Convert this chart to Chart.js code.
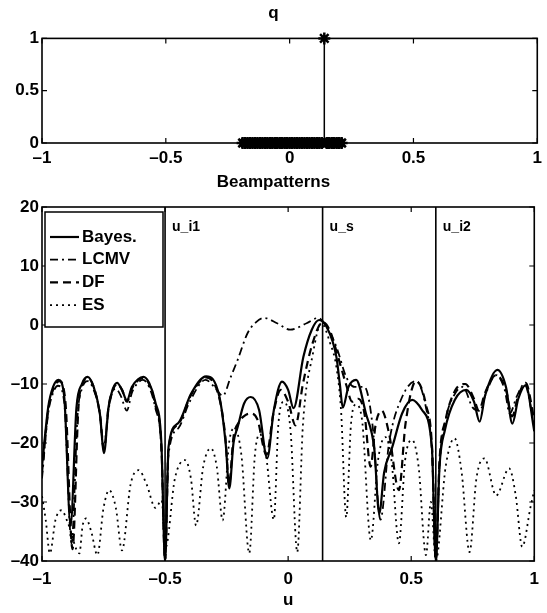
<!DOCTYPE html>
<html>
<head>
<meta charset="utf-8">
<title>q and Beampatterns</title>
<script src="https://cdn.jsdelivr.net/npm/chart.js@4.4.1/dist/chart.umd.min.js"></script>
<style>
  html, body { margin: 0; padding: 0; background: #fff; }
  #wrap { position: relative; width: 547px; height: 613px; }
  .panel { position: absolute; left: 0; width: 547px; }
  #q-panel { top: 0; height: 175px; }
  #beam-panel { top: 160px; height: 453px; }
</style>
</head>
<body>
<div id="wrap">
  <div class="panel" id="q-panel"><canvas id="q-chart"></canvas></div>
  <div class="panel" id="beam-panel"><canvas id="beam-chart"></canvas></div>
</div>
<script>
(function () {
    'use strict';

    /* ── q (stem plot) ── */
    var qU   = [-0.19, -0.18, -0.17, -0.16, -0.15, -0.14, -0.13, -0.12, -0.11, -0.1, -0.09, -0.08, -0.07, -0.06, -0.05, -0.04, -0.03, -0.02, -0.01, 0,
                0.01, 0.02, 0.03, 0.04, 0.05, 0.06, 0.07, 0.08, 0.09, 0.1, 0.11, 0.12, 0.13, 0.14, 0.15, 0.16, 0.17, 0.18, 0.19, 0.2, 0.21];
    var qVal = [0, 0, 0, 0, 0, 0, 0, 0, 0, 0, 0, 0, 0, 0, 0, 0, 0, 0, 0, 0,
                0, 0, 0, 0, 0, 0, 0, 0, 0, 0, 0, 0, 0, 1, 0, 0, 0, 0, 0, 0, 0];

    /* ── direction markers ── */
    var markerU    = [-0.5, 0.14, 0.6];
    var markerText = ['u_i1', 'u_s', 'u_i2'];

    /* ── Beampatterns (dB) ── */
    var bayesU  = [-1, -0.975, -0.955, -0.933, -0.91, -0.884, -0.86, -0.838, -0.815, -0.79, -0.765, -0.748, -0.73, -0.712, -0.695, -0.675, -0.655, -0.635, -0.61, -0.588, -0.565, -0.54, -0.515, -0.5, -0.486, -0.446, -0.394, -0.333, -0.279, -0.254, -0.239, -0.222, -0.205, -0.179, -0.152, -0.118, -0.085, -0.058, -0.025, 0, 0.022, 0.062, 0.096, 0.126, 0.156, 0.196, 0.21, 0.222, 0.245, 0.276, 0.316, 0.35, 0.37, 0.39, 0.423, 0.463, 0.504, 0.544, 0.584, 0.6, 0.615, 0.637, 0.677, 0.724, 0.755, 0.778, 0.8, 0.85, 0.885, 0.911, 0.935, 0.965, 1];
    var bayesDb = [-24, -14, -10.5, -9.3, -12, -34, -14, -10, -8.8, -10.5, -15, -21.7, -14, -10.8, -9.8, -11, -12.8, -10.5, -9.2, -8.8, -9.8, -13, -20, -40, -20.7, -16.6, -11.6, -8.7, -12.2, -20, -27.7, -20, -17.3, -13.3, -12.2, -14.4, -22.6, -14.4, -9.6, -11, -14.1, -5.4, -0.8, 0.85, -0.3, -5.4, -10, -14, -10.5, -9.3, -15, -21, -32, -25, -20.7, -15, -12.7, -14.4, -20.7, -40, -24, -17.8, -12.7, -11, -13, -16.4, -12, -7.6, -10.5, -16.7, -12.5, -10.2, -18];

    var lcmvU  = [-1, -0.975, -0.955, -0.935, -0.91, -0.88, -0.855, -0.835, -0.815, -0.79, -0.765, -0.75, -0.73, -0.715, -0.7, -0.68, -0.655, -0.635, -0.61, -0.59, -0.565, -0.54, -0.515, -0.5, -0.486, -0.446, -0.4, -0.335, -0.3, -0.265, -0.235, -0.205, -0.165, -0.13, -0.098, -0.045, 0.008, 0.075, 0.122, 0.156, 0.196, 0.236, 0.27, 0.31, 0.343, 0.375, 0.41, 0.46, 0.52, 0.56, 0.585, 0.6, 0.615, 0.64, 0.68, 0.71, 0.75, 0.78, 0.8, 0.845, 0.88, 0.9, 0.93, 0.96, 1];
    var lcmvDb = [-26, -15, -11.5, -10.3, -13, -37, -15, -10.5, -9.5, -11, -15, -21, -14.5, -11.5, -10.8, -12, -14.5, -11.5, -9.8, -9.3, -10.5, -14, -21, -40, -22, -17.5, -13, -9.3, -10.5, -12, -9, -5.9, -1.4, 0.5, 1.2, 0.3, -0.8, 0.3, 1.2, -0.3, -3.7, -8.8, -10.5, -10.5, -17, -33, -20, -12.5, -9.5, -14, -22, -40, -24, -16, -11.5, -10.5, -14, -14.5, -12, -8.5, -11, -15, -12, -10, -17];

    var dfU  = [-1, -0.975, -0.955, -0.93, -0.905, -0.876, -0.852, -0.835, -0.813, -0.79, -0.765, -0.748, -0.73, -0.712, -0.695, -0.675, -0.655, -0.635, -0.61, -0.588, -0.565, -0.54, -0.515, -0.5, -0.486, -0.446, -0.394, -0.333, -0.279, -0.255, -0.24, -0.222, -0.2, -0.175, -0.15, -0.125, -0.088, -0.06, -0.03, 0, 0.03, 0.06, 0.1, 0.14, 0.17, 0.2, 0.235, 0.26, 0.285, 0.31, 0.335, 0.355, 0.38, 0.41, 0.45, 0.477, 0.52, 0.56, 0.585, 0.6, 0.615, 0.64, 0.68, 0.72, 0.755, 0.775, 0.8, 0.845, 0.885, 0.91, 0.935, 0.965, 1];
    var dfDb = [-25, -14.5, -11, -9.5, -13, -38, -14, -10, -9, -10.5, -15, -21, -14, -11, -10, -11, -13, -10.8, -9.4, -9, -10, -13.5, -20.5, -40, -21, -16.8, -11.8, -8.9, -12.5, -19, -27, -19, -16.5, -15.3, -15, -16, -22, -15, -11, -13, -17, -10, -3, 0.5, -1, -5, -10, -13, -12.5, -15, -24, -17, -14.5, -18.4, -28, -16.7, -9.5, -13.5, -21, -40, -23, -16, -11, -10, -12.5, -14.5, -11.5, -8.5, -11, -15.5, -12, -9.8, -16];

    var esU  = [-1, -0.985, -0.968, -0.945, -0.921, -0.895, -0.848, -0.835, -0.821, -0.8, -0.775, -0.75, -0.727, -0.7, -0.675, -0.64, -0.607, -0.575, -0.539, -0.514, -0.498, -0.46, -0.419, -0.395, -0.374, -0.345, -0.314, -0.29, -0.266, -0.24, -0.219, -0.19, -0.158, -0.135, -0.115, -0.09, -0.058, -0.04, -0.017, 0.01, 0.037, 0.06, 0.1, 0.135, 0.17, 0.196, 0.215, 0.236, 0.255, 0.275, 0.3, 0.336, 0.365, 0.395, 0.42, 0.45, 0.475, 0.504, 0.53, 0.56, 0.58, 0.6, 0.64, 0.676, 0.705, 0.737, 0.765, 0.798, 0.845, 0.898, 0.925, 0.951, 0.985, 1];
    var esDb = [-29, -33, -38.7, -33, -31.4, -33.5, -38.7, -34, -32.8, -35, -39, -31, -28, -31, -38.2, -27, -24.6, -27, -31, -29.7, -37.7, -26, -22.9, -26, -34, -24, -20.9, -24, -33.1, -20, -17.5, -22, -38.7, -22, -18.5, -22, -33, -17, -13, -18, -38.5, -17, -5, 0.3, -3, -7.1, -14.5, -32.6, -17, -13.5, -16, -36.5, -23, -19, -23, -37, -23, -19.5, -24, -39, -30, -40, -24, -19.2, -25, -38.5, -26, -22.6, -28.9, -24.3, -29, -37.6, -30.8, -28];

    /* ── shared styling ── */
    var fontFamily = '"Liberation Sans", Arial, Helvetica, sans-serif';
    var axisFont = { family: fontFamily, size: 17, weight: 'bold' };
    var black = '#000';

    function zip(xs, ys) {
        return xs.map(function (x, i) { return { x: x, y: ys[i] }; });
    }
    function fmtTick(v) {
        return String(v).replace('-', '\u2013');
    }

    /* MATLAB style box with inward tick marks on all four sides */
    var matlabBox = {
        id: 'matlabBox',
        afterDatasetsDraw: function (chart) {
            var ctx = chart.ctx, a = chart.chartArea;
            var sx = chart.scales.x, sy = chart.scales.y, len = 5;
            ctx.save();
            ctx.strokeStyle = black;
            ctx.lineWidth = 1.6;
            ctx.strokeRect(a.left, a.top, a.right - a.left, a.bottom - a.top);
            ctx.lineWidth = 1.2;
            ctx.beginPath();
            sx.ticks.forEach(function (t) {
                var px = sx.getPixelForValue(t.value);
                ctx.moveTo(px, a.bottom); ctx.lineTo(px, a.bottom - len);
                ctx.moveTo(px, a.top); ctx.lineTo(px, a.top + len);
            });
            sy.ticks.forEach(function (t) {
                var py = sy.getPixelForValue(t.value);
                ctx.moveTo(a.left, py); ctx.lineTo(a.left + len, py);
                ctx.moveTo(a.right, py); ctx.lineTo(a.right - len, py);
            });
            ctx.stroke();
            ctx.restore();
        }
    };

    /* text tags next to the vertical direction lines */
    var markerTags = {
        id: 'markerTags',
        afterDatasetsDraw: function (chart) {
            var ctx = chart.ctx, sx = chart.scales.x, sy = chart.scales.y;
            ctx.save();
            ctx.fillStyle = black;
            ctx.font = 'bold 14px ' + fontFamily;
            ctx.textBaseline = 'middle';
            markerU.forEach(function (u, i) {
                ctx.fillText(markerText[i], sx.getPixelForValue(u) + 7, sy.getPixelForValue(16.6));
            });
            ctx.restore();
        }
    };

    /* legend drawn inside the plot, upper left, like MATLAB */
    var insetLegend = {
        id: 'insetLegend',
        afterDraw: function (chart) {
            var ctx = chart.ctx, a = chart.chartArea;
            var items = chart.data.datasets.filter(function (d) { return d.inLegend; });
            var x0 = a.left + 3, y0 = a.top + 5, w = 118, h = 115;
            ctx.save();
            ctx.fillStyle = '#fff';
            ctx.fillRect(x0, y0, w, h);
            ctx.strokeStyle = black;
            ctx.lineWidth = 1.5;
            ctx.strokeRect(x0, y0, w, h);
            ctx.font = 'bold 17px ' + fontFamily;
            ctx.textBaseline = 'middle';
            items.forEach(function (d, i) {
                var y = y0 + 25 + i * 22.7;
                ctx.setLineDash(d.borderDash || []);
                ctx.lineWidth = d.borderWidth;
                ctx.beginPath();
                ctx.moveTo(x0 + 5, y);
                ctx.lineTo(x0 + 34, y);
                ctx.stroke();
                ctx.setLineDash([]);
                ctx.fillStyle = black;
                ctx.fillText(d.label, x0 + 37, y);
            });
            ctx.restore();
        }
    };

    /* ── 1. q — stem plot ── */
    var stemData = [];
    qU.forEach(function (u, i) {
        if (qVal[i] !== 0) {
            stemData.push({ x: u, y: 0 }, { x: u, y: qVal[i] }, { x: u, y: null });
        }
    });

    new Chart(document.getElementById('q-chart'), {
        type: 'scatter',
        data: {
            datasets: [
                {
                    data: stemData,
                    showLine: true,
                    spanGaps: false,
                    borderColor: black,
                    borderWidth: 1.5,
                    pointRadius: 0
                },
                {
                    data: zip(qU, qVal),
                    pointStyle: 'star',
                    pointRadius: 6,
                    pointBorderWidth: 2.5,
                    borderColor: black,
                    backgroundColor: black,
                    clip: false
                }
            ]
        },
        options: {
            responsive: true,
            maintainAspectRatio: false,
            animation: false,
            layout: { padding: { left: 0, right: 0, top: 0, bottom: 0 } },
            plugins: {
                legend: { display: false },
                tooltip: { enabled: false },
                title: {
                    display: true,
                    text: 'q',
                    color: black,
                    font: axisFont,
                    padding: { top: 3, bottom: 15 }
                }
            },
            scales: {
                x: {
                    type: 'linear',
                    min: -1,
                    max: 1,
                    grid: { display: false, drawTicks: false },
                    border: { display: false },
                    ticks: { stepSize: 0.5, color: black, font: axisFont, padding: 5, maxRotation: 0, callback: fmtTick },
                    afterFit: function (s) { s.height = 32; }
                },
                y: {
                    min: 0,
                    max: 1,
                    grid: { display: false, drawTicks: false },
                    border: { display: false },
                    ticks: { stepSize: 0.5, color: black, font: axisFont, padding: 3, callback: fmtTick },
                    afterFit: function (s) { s.width = 42; }
                }
            }
        },
        plugins: [matlabBox]
    });

    /* ── 2. Beampatterns — line chart ── */
    var beamSets = markerU.map(function (u) {
        return {
            data: [{ x: u, y: -40 }, { x: u, y: 20 }],
            showLine: true,
            borderColor: black,
            borderWidth: 1.6,
            pointRadius: 0
        };
    });

    var curveBase = {
        showLine: true,
        borderColor: black,
        pointRadius: 0,
        cubicInterpolationMode: 'monotone',
        inLegend: true
    };
    beamSets.push(
        Object.assign({}, curveBase, { label: 'Bayes.', data: zip(bayesU, bayesDb), borderWidth: 2.2 }),
        Object.assign({}, curveBase, { label: 'LCMV', data: zip(lcmvU, lcmvDb), borderWidth: 1.8, borderDash: [8, 4, 2, 4] }),
        Object.assign({}, curveBase, { label: 'DF', data: zip(dfU, dfDb), borderWidth: 2.2, borderDash: [8, 5] }),
        Object.assign({}, curveBase, { label: 'ES', data: zip(esU, esDb), borderWidth: 1.8, borderDash: [2, 4] })
    );

    new Chart(document.getElementById('beam-chart'), {
        type: 'scatter',
        data: { datasets: beamSets },
        options: {
            responsive: true,
            maintainAspectRatio: false,
            animation: false,
            layout: { padding: { left: 0, right: 0, top: 0, bottom: 0 } },
            plugins: {
                legend: { display: false },
                tooltip: { enabled: false },
                title: {
                    display: true,
                    text: 'Beampatterns',
                    color: black,
                    font: axisFont,
                    padding: { top: 12, bottom: 14.6 }
                }
            },
            scales: {
                x: {
                    type: 'linear',
                    min: -1,
                    max: 1,
                    grid: { display: false, drawTicks: false },
                    border: { display: false },
                    ticks: { stepSize: 0.5, color: black, font: axisFont, padding: 8, maxRotation: 0, callback: fmtTick },
                    title: { display: true, text: 'u', color: black, font: axisFont, padding: { top: 0, bottom: 2 } },
                    afterFit: function (s) { s.height = 52; }
                },
                y: {
                    min: -40,
                    max: 20,
                    grid: { display: false, drawTicks: false },
                    border: { display: false },
                    ticks: { stepSize: 10, color: black, font: axisFont, padding: 3, callback: fmtTick },
                    afterFit: function (s) { s.width = 42; }
                }
            }
        },
        plugins: [matlabBox, markerTags, insetLegend]
    });
})();
</script>
</body>
</html>
